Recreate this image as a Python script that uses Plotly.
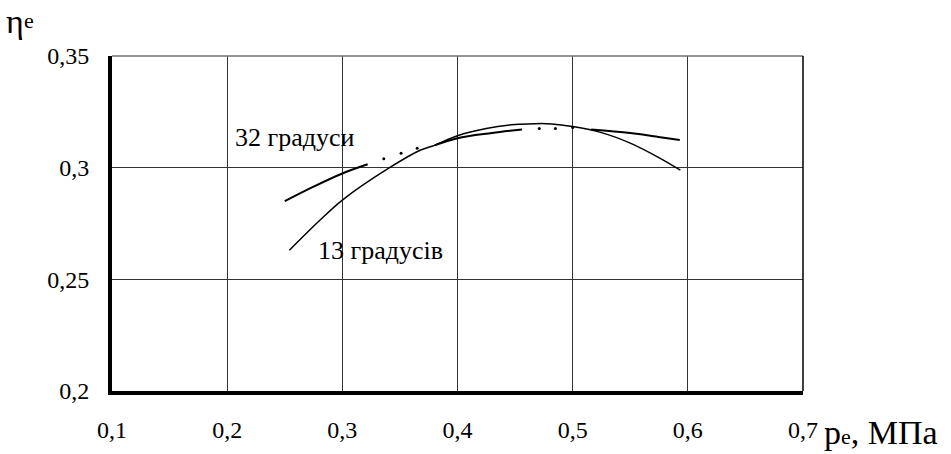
import plotly.graph_objects as go

# ---- data ----
# curve "32 градуси" (solid / dotted / solid / dotted / solid pieces)
p32_a = [0.250, 0.275, 0.300, 0.322]
eta32_a = [0.2850, 0.2915, 0.2974, 0.3015]
p32_dots1 = [0.336, 0.351, 0.365]
eta32_dots1 = [0.3040, 0.3064, 0.3087]
p32_b = [0.380, 0.400, 0.430, 0.456]
eta32_b = [0.3100, 0.3132, 0.3155, 0.3171]
p32_dots2 = [0.471, 0.485, 0.500]
eta32_dots2 = [0.3175, 0.3175, 0.3180]
p32_c = [0.516, 0.550, 0.576, 0.593]
eta32_c = [0.3171, 0.3155, 0.3136, 0.3124]

# curve "13 градусів"
p13 = [0.254, 0.280, 0.300, 0.341, 0.368, 0.380, 0.400, 0.425, 0.450,
       0.467, 0.482, 0.500, 0.525, 0.550, 0.576, 0.5935]
eta13 = [0.2630, 0.2762, 0.2855, 0.3000, 0.3079, 0.3100, 0.3143, 0.3175,
         0.3193, 0.3197, 0.3196, 0.3184, 0.3157, 0.3110, 0.3042, 0.2989]

x_ticks = [0.1, 0.2, 0.3, 0.4, 0.5, 0.6, 0.7]
x_tick_text = ["0,1", "0,2", "0,3", "0,4", "0,5", "0,6", "0,7"]
y_ticks = [0.2, 0.25, 0.3, 0.35]
y_tick_text = ["0,2", "0,25", "0,3", "0,35"]

FONT = "Liberation Serif"

fig = go.Figure()

line32 = dict(color="black", width=2)
line13 = dict(color="black", width=1.5)
for px, py in [(p32_a, eta32_a), (p32_b, eta32_b), (p32_c, eta32_c)]:
    fig.add_trace(go.Scatter(x=px, y=py, mode="lines", line=line32,
                             line_shape="spline", showlegend=False, hoverinfo="skip"))
for px, py in [(p32_dots1, eta32_dots1), (p32_dots2, eta32_dots2)]:
    fig.add_trace(go.Scatter(x=px, y=py, mode="markers",
                             marker=dict(color="black", size=3), showlegend=False,
                             hoverinfo="skip"))
fig.add_trace(go.Scatter(x=p13, y=eta13, mode="lines", line=line13,
                         line_shape="spline", showlegend=False, hoverinfo="skip"))

fig.update_layout(
    width=951, height=454,
    margin=dict(l=112, r=148, t=56, b=63),
    paper_bgcolor="white", plot_bgcolor="white",
    font=dict(family=FONT, size=24, color="black"),
    xaxis=dict(range=[0.1, 0.7], tickvals=x_ticks, ticktext=x_tick_text,
               tickfont=dict(family=FONT, size=24),
               showgrid=True, gridcolor="#333333", gridwidth=1,
               showline=True, linecolor="black", linewidth=4,
               ticks="", ticklabelstandoff=14, zeroline=False),
    yaxis=dict(range=[0.2, 0.35], tickvals=y_ticks, ticktext=y_tick_text,
               tickfont=dict(family=FONT, size=24),
               showgrid=True, gridcolor="#333333", gridwidth=1,
               showline=True, linecolor="black", linewidth=4,
               ticks="", ticklabelstandoff=14, zeroline=False),
    shapes=[
        dict(type="line", xref="paper", yref="paper", x0=0, x1=1, y0=1, y1=1,
             line=dict(color="#707070", width=1.5)),
        dict(type="line", xref="paper", yref="paper", x0=1, x1=1, y0=0, y1=1,
             line=dict(color="black", width=1.5)),
    ],
    annotations=[
        dict(text="32 градуси", x=0.2584, y=0.3137, xref="x", yref="y",
             showarrow=False, font=dict(family=FONT, size=26)),
        dict(text="13 градусів", x=0.3329, y=0.2630, xref="x", yref="y",
             showarrow=False, font=dict(family=FONT, size=26)),
        dict(text="η", x=-0.156, y=1.164, xref="paper", yref="paper", xanchor="left",
             yanchor="top", showarrow=False, font=dict(family=FONT, size=34)),
        dict(text="e", x=-0.130, y=1.150, xref="paper", yref="paper", xanchor="left",
             yanchor="top", showarrow=False, font=dict(family=FONT, size=22)),
        dict(text="p<span style='font-size:22px'>e</span>, МПа", x=1.027, y=-0.0627,
             xref="paper", yref="paper", xanchor="left", yanchor="top",
             showarrow=False, font=dict(family=FONT, size=34)),
    ],
)

fig.write_html("out.html")
